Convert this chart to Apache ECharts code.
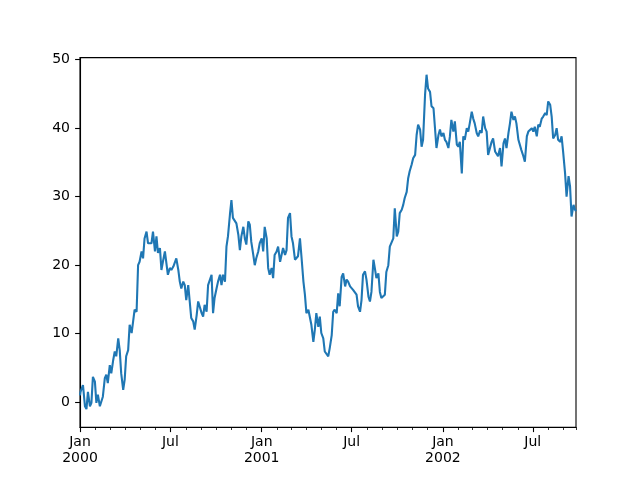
<!DOCTYPE html>
<html lang="en">
<head>
    <meta charset="UTF-8">
    <title>Random walk</title>
    <script src="https://cdn.jsdelivr.net/npm/echarts@6/dist/echarts.min.js"></script>
    <style>
        body { margin: 0; background: #fff; }
        #main { width: 640px; height: 480px; }
    </style>
</head>
<body>
    <div id="main"></div>
    <script type="text/javascript">
        // series starts 2000-01-01, one reading every few days
        var startDate = Date.UTC(2000, 0, 1);
        var DAY = 86400000;
        var lastDay = 999;

        var dayOffsets = [
            0, 1, 6, 10, 13, 16, 20, 23, 26, 30, 33, 36, 40, 43, 46, 50, 53, 56, 60, 63, 67, 70, 73, 77, 80, 83, 87, 90, 93, 97,
            100, 104, 107, 110, 114, 117, 120, 124, 127, 130, 134, 137, 141, 144, 147, 151, 154, 157, 161, 164, 167, 171, 174, 177, 181, 184, 188, 191, 194, 198, 201,
            204, 208, 211, 214, 218, 221, 224, 228, 231, 235, 238, 241, 245, 248, 251, 255, 258, 261, 265, 268,
            271, 275, 278, 282, 285, 288, 292, 295, 298, 302, 305, 308, 312, 315, 319, 322, 325, 329, 332, 335,
            339, 342, 345, 349, 352, 355, 359, 362, 366, 369, 372, 376, 379, 382, 386, 389, 392, 396, 399, 403,
            406, 409, 413, 416, 419, 423, 426, 429, 433, 436, 439, 443, 446, 450, 453, 456, 460, 463, 466, 470,
            473, 476, 480, 483, 486, 490, 493, 497, 500, 503, 507, 510, 513, 517, 520, 523, 527, 530, 534, 537,
            540, 544, 547, 550, 554, 557, 560, 564, 567, 570, 574, 577, 581, 584, 587, 591,
            594, 597, 601, 604, 607, 611, 614, 617, 621, 624, 628, 631, 634, 638, 641, 644, 648, 651, 654, 658,
            661, 664, 668, 671, 675, 678, 681, 685, 688, 691, 695, 698, 701, 705, 708, 712, 715, 718, 722, 725,
            728, 732, 735, 738, 742, 745, 748, 752, 755, 759, 762, 765, 769, 772, 775, 779, 782, 785, 789, 792,
            795, 799, 802, 806, 809, 812, 816, 819, 822, 826, 829, 832, 836, 839, 842, 846, 849, 853, 856, 859,
            863, 866, 869, 873, 876, 879, 883, 886, 889, 893, 896, 900, 903, 906, 910, 913, 916, 920, 923, 926,
            930, 933, 937, 940, 943, 947, 950, 953, 957, 960, 963, 967, 970, 973, 977, 980, 984, 987, 990, 994,
            997, 999
        ];

        var values = [
            1.0, 1.5, 2.5, -0.6, -1.0, 1.5, -0.6, -0.1, 3.7, 3.0, -0.1, 1.1, -0.6, -0.8, 0.8, 3.5, 4.0, 2.8, 5.4, 4.2, 6.2, 7.4, 6.7, 9.3, 7.6, 4.2, 1.8, 3.3, 6.7, 7.6,
            11.3, 10.1, 11.8, 13.5, 13.2, 20.0, 20.5, 22.0, 21.0, 23.9, 24.9, 23.2, 23.4, 23.2, 24.9, 22.0, 24.2, 21.8, 22.5, 19.3, 20.5, 22.0, 20.3, 18.6, 19.6, 19.3, 19.8, 20.0, 21.0, 19.3, 17.6,
            16.6, 17.6, 17.1, 14.9, 17.1, 14.7, 12.3, 11.8, 10.6, 12.7, 14.7, 14.9, 13.0, 12.5, 14.2, 13.2, 17.1, 17.1, 18.6, 13.0,
            15.2, 16.6, 17.6, 18.6, 17.1, 18.6, 17.6, 22.7, 24.2, 27.4, 29.5, 26.9, 27.1, 26.1, 24.4, 22.2, 24.2, 25.6, 23.9, 23.0,
            26.4, 25.9, 23.4, 21.5, 20.0, 21.0, 22.0, 23.2, 23.9, 22.0, 25.6, 23.9, 19.6, 18.6, 19.6, 18.1, 21.5, 22.0, 22.7, 20.5,
            20.5, 22.5, 21.5, 22.2, 26.9, 27.6, 24.2, 23.2, 20.8, 21.0, 21.3, 23.9, 21.3, 17.6, 15.7, 13.0, 13.5, 13.7, 11.3, 8.8,
            10.6, 13.0, 11.0, 12.5, 10.1, 9.3, 7.4, 7.2, 6.7, 7.9, 9.8, 13.2, 13.5, 13.0, 15.9, 14.0, 18.3, 18.8, 16.9, 17.9,
            17.6, 16.9, 17.1, 16.4, 16.6, 15.7, 14.0, 13.2, 14.9, 18.6, 19.1, 17.9, 15.4, 14.7, 16.1, 20.8,
            19.5, 18.1, 18.8, 16.1, 15.2, 15.0, 15.7, 19.0, 20.0, 22.7, 22.9, 23.9, 28.3, 24.2, 24.9, 27.6, 28.1, 28.8, 29.8, 30.7,
            32.7, 33.7, 34.7, 35.6, 36.1, 39.0, 40.5, 39.8, 37.3, 38.3, 44.9, 47.8, 45.8, 45.3, 43.2, 42.9, 42.9, 37.1, 39.0, 39.8,
            38.8, 39.3, 38.3, 38.0, 37.1, 38.8, 41.2, 39.5, 41.0, 37.6, 37.3, 38.0, 33.4, 38.8, 38.3, 40.0, 39.5, 40.7, 42.4, 41.4,
            40.7, 39.3, 38.8, 39.7, 39.3, 41.7, 40.0, 39.5, 36.1, 36.1, 38.0, 38.5, 36.6, 36.8, 35.9, 37.1, 34.4, 37.8, 38.5, 37.1,
            39.3, 40.7, 42.4, 41.2, 41.7, 40.7, 38.3, 38.5, 36.8, 35.9, 35.1, 38.8, 39.5, 39.3, 40.0, 39.5, 40.2, 38.8, 40.5, 40.2,
            41.4, 41.7, 42.2, 41.9, 43.9, 43.4, 41.7, 38.5, 39.0, 40.0, 38.3, 38.0, 38.8, 36.6, 33.4, 30.0, 33.0, 31.5, 27.1, 28.8,
            28.1, 27.9
        ];

        var monthNames = ['Jan', 'Jul'];
        var yMin = -3.65;
        var yMax = 50.3;

        var points = dayOffsets.map(function (d, i) {
            return [startDate + d * DAY, values[i]];
        });

        var chart = echarts.init(document.getElementById('main'), null, { renderer: 'canvas' });

        var font = 'DejaVu Sans';
        var tickColor = '#000';
        var option = {
            animation: false,
            backgroundColor: '#fff',
            grid: {
                left: 80, right: 64, top: 57.6, bottom: 52.8,
                show: true, borderColor: '#000', borderWidth: 1.1,
                containLabel: false, outerBoundsMode: 'none'
            },
            xAxis: [{
                // major ticks: Jan / Jul
                type: 'time',
                position: 'bottom',
                min: startDate,
                max: startDate + lastDay * DAY,
                minInterval: 181 * DAY,
                maxInterval: 184 * DAY,
                splitLine: { show: false },
                axisLine: { onZero: false, lineStyle: { color: tickColor, width: 1.1 } },
                axisTick: { length: 4.9, lineStyle: { color: tickColor, width: 1.1 } },
                axisLabel: {
                    color: '#000', fontSize: 14, fontFamily: font, margin: 7, lineHeight: 16,
                    hideOverlap: false, showMinLabel: true,
                    formatter: function (val) {
                        var d = new Date(val);
                        if (d.getUTCDate() !== 1) return '';
                        if (d.getUTCMonth() === 0) return monthNames[0] + '\n' + d.getUTCFullYear();
                        if (d.getUTCMonth() === 6) return monthNames[1];
                        return '';
                    }
                }
            }, {
                // minor ticks: every month
                type: 'time',
                position: 'bottom',
                min: startDate,
                max: startDate + lastDay * DAY,
                minInterval: 28 * DAY,
                maxInterval: 31 * DAY,
                splitLine: { show: false },
                axisLine: { show: false, onZero: false },
                axisTick: { show: true, length: 2.8, lineStyle: { color: tickColor, width: 0.8 } },
                axisLabel: { show: false }
            }],
            yAxis: {
                type: 'value',
                min: yMin,
                max: yMax,
                splitNumber: 5,
                splitLine: { show: false },
                axisLine: { show: true, onZero: false, lineStyle: { color: tickColor, width: 1.1 } },
                axisTick: { show: true, length: 4.9, lineStyle: { color: tickColor, width: 1.1 } },
                axisLabel: {
                    color: '#000', fontSize: 14, fontFamily: font, margin: 10,
                    showMinLabel: false, showMaxLabel: false,
                    formatter: function (v) {
                        return Math.abs(v % 10) < 1e-6 ? String(v) : '';
                    }
                }
            },
            series: [{
                type: 'line',
                data: points,
                showSymbol: false,
                lineStyle: { color: '#1f77b4', width: 2.1 },
                itemStyle: { color: '#1f77b4' }
            }]
        };

        chart.setOption(option);
    </script>
</body>
</html>
